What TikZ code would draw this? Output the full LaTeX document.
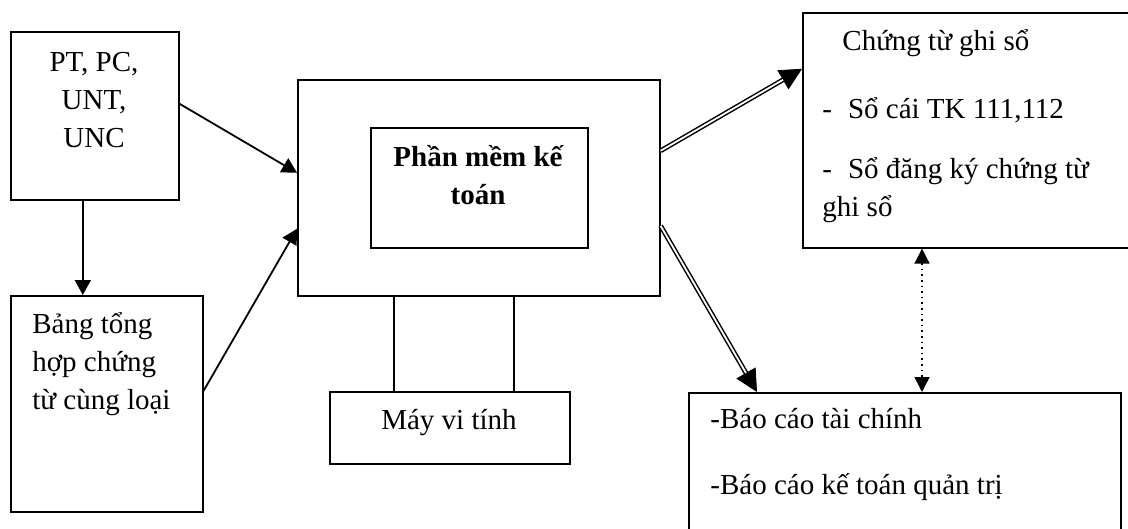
\documentclass[tikz,border=0pt]{standalone}
\usepackage{fontspec}
\setmainfont{Liberation Serif}
\usetikzlibrary{arrows.meta, positioning}

\begin{document}
\begin{tikzpicture}[x=0.5pt, y=-0.5pt,
    font=\fontsize{14.5}{19}\selectfont,
    box/.style={draw, line width=0.8pt, inner sep=0, anchor=north west},
    txt/.style={inner sep=0, align=left, anchor=north west},
    link/.style={line width=0.8pt},
    arr/.style={line width=0.9pt, -{Triangle[length=7.5pt, width=8pt]}},
    dbl/.style={line width=2.4pt, -{Triangle[length=11pt, width=11pt, line width=0.4pt]},
      postaction={draw, white, line width=0.9pt, shorten >=11pt, -}},
    dots/.style={line width=0.8pt, dotted,
      {Triangle[length=7.5pt, width=7.5pt]}-{Triangle[length=7.5pt, width=7.5pt]}}]
  \useasboundingbox (0,0) rectangle (1128,529);
  \clip (0,0) rectangle (1128,529);

  \node[box, minimum width=84pt, minimum height=84pt] (pt) at (10,31) {};
  \node[box, minimum width=96pt, minimum height=108pt] (bang) at (10,295) {};
  \node[box, minimum width=181pt, minimum height=108pt] (pm) at (297,79) {};
  \node[box, minimum width=108.5pt, minimum height=60pt] (pmk) at (370,127) {};
  \node[box, minimum width=120pt, minimum height=36pt] (mvt) at (329,391) {};
  \node[box, minimum width=170pt, minimum height=117.5pt] (ctgs) at (802,12) {};
  \node[box, minimum width=216pt, minimum height=80pt] (bc) at (688,392) {};

  \node[txt, anchor=north, align=center] (pttxt) at (94,45)
    {\strut PT, PC,\\UNT,\\UNC};
  \node[txt] (bangtxt) at (32,306)
    {\strut Bảng tổng\\hợp chứng\\từ cùng loại};
  \node[txt, anchor=north, align=center, font=\fontsize{14.5}{19}\selectfont\bfseries] (pmktxt) at (478,140)
    {\strut Phần mềm kế\\toán};
  \node[txt, anchor=north] (mvttxt) at (449,402) {\strut Máy vi tính};
  \node[txt] (ctgstxt) at (822,24)
    {\strut\hspace*{10pt}Chứng từ ghi sổ\\[15pt]
     -\hspace{8pt}Sổ cái TK 111,112\\[11pt]
     -\hspace{8pt}Sổ đăng ký chứng từ\\
     ghi sổ};
  \node[txt] (bctxt) at (710,401)
    {\strut -Báo cáo tài chính\\[14pt]-Báo cáo kế toán quản trị};

  \coordinate (ptb) at ([xshift=-6pt]pt.south);
  \coordinate (ml) at ([xshift=32.5pt]mvt.north west);
  \coordinate (mr) at ([xshift=92.5pt]mvt.north west);
  \coordinate (dv) at ([xshift=60pt]ctgs.south west);

  \draw[arr] (ptb) -- (ptb |- bang.north);
  \draw[arr] ([yshift=6pt]pt.east) -- ([yshift=7.5pt]pm.west);
  \draw[arr] ([yshift=6.5pt]bang.east) -- ([yshift=-20.5pt]pm.west);
  \draw[link] (ml |- pm.south) -- (ml);
  \draw[link] (mr |- pm.south) -- (mr);
  \draw[dbl] ([yshift=18.5pt]pm.east) -- ([yshift=30.75pt]ctgs.west);
  \draw[dbl] ([yshift=-19pt]pm.east) -- ([xshift=34.5pt]bc.north west);
  \draw[dots] (dv) -- (dv |- bc.north);
\end{tikzpicture}
\end{document}
